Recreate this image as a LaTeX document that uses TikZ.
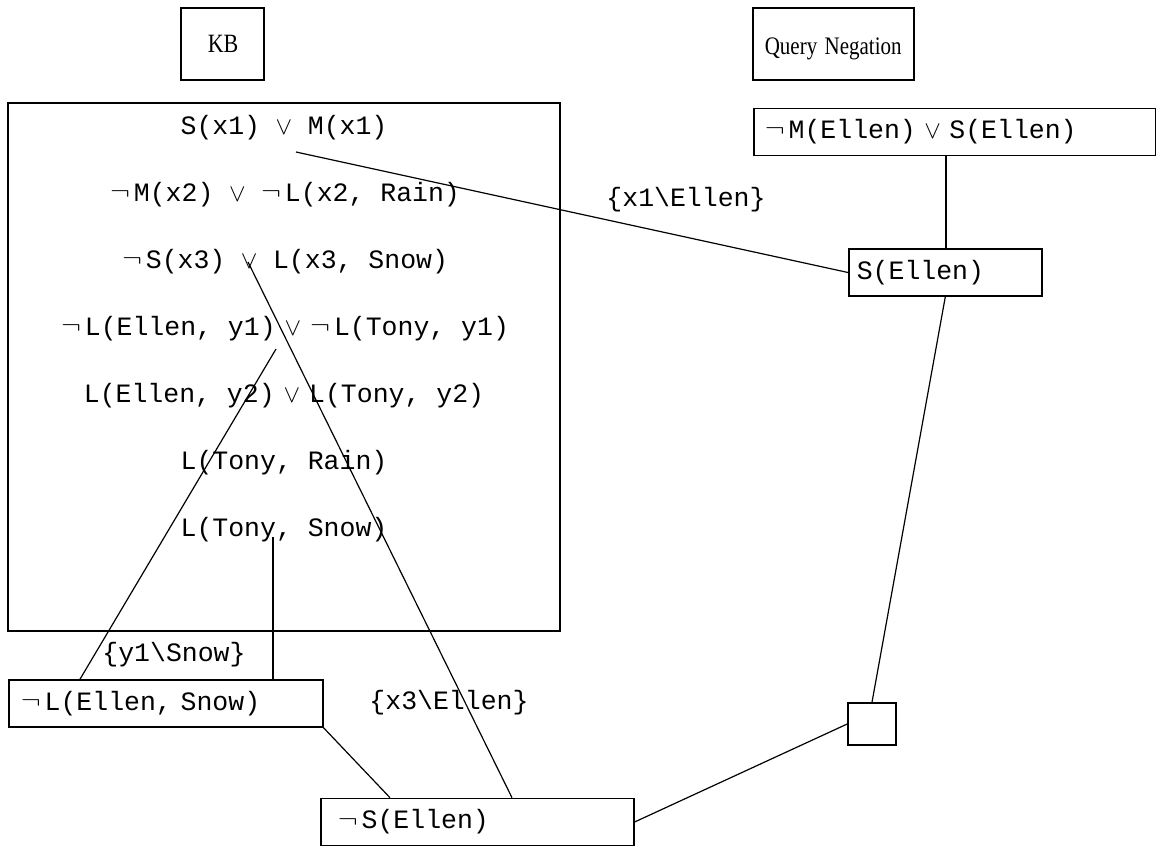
\documentclass[tikz,border=0pt]{standalone}
\usepackage{fontspec}
\usepackage{graphicx}
\setmainfont{Liberation Serif}
\setmonofont{Liberation Mono}
\usetikzlibrary{positioning,calc}
\newcommand{\negs}{\makebox[0.9em][l]{\raisebox{0.07em}{\scalebox{1.2}[1]{$\neg$}}}}
\newcommand{\ors}{\makebox[0.6em]{$\vee$}}
\newcommand{\orw}{~\ors~}
\newcommand{\orn}{\hspace{0.35em}\ors\hspace{0.35em}}
\newcommand{\bs}{\textbackslash}
\newcommand{\tall}[1]{\scalebox{1}[1.2]{#1}}

\begin{document}
\begin{tikzpicture}[x=1pt,y=-1pt,
  mono/.style={font=\fontsize{26.5}{30}\selectfont\ttfamily},
  clause/.style={mono,inner sep=0pt},
  title/.style={draw,line width=1.6pt,font=\fontsize{22}{26}\selectfont,
                inner ysep=0pt,minimum height=72pt,align=left},
  res/.style={draw,line width=1.6pt,mono,inner ysep=0pt,minimum height=47pt,
              align=left},
  sub/.style={mono,inner sep=0pt},
  link/.style={line width=1.2pt}]
\useasboundingbox (0,0) rectangle (1156,848);

% headings
\node[title,text width=29pt,inner xsep=27pt,anchor=west] (kb) at (180,44)
  {\tall{KB}};
\node[title,text width=137pt,inner xsep=12pt,anchor=west] (qneg) at (752,44)
  {\hspace{4pt}\tall{\fontsize{21}{26}\selectfont Query Negation}};

% knowledge base
\node[draw,line width=1.6pt,minimum width=552pt,minimum height=528pt,inner sep=0pt]
  (kbbox) at (284,367) {};
\node[clause] (c1) at (284,128) {S(x1)\orw M(x1)};
\node[clause] (c2) at (285,195) {\negs M(x2)\orw\negs L(x2, Rain)};
\node[clause] (c3) at (285,262) {\negs S(x3)\orw L(x3, Snow)};
\node[clause] (c4) at (285,329) {\negs L(Ellen, y1)\orn\negs L(Tony, y1)};
\node[clause] (c5) at (284,396) {L(Ellen, y2)\orn L(Tony, y2)};
\node[clause] (c6) at (284,463) {L(Tony, Rain)};
\node[clause] (c7) at (284,530) {L(Tony, Snow)};

% resolution steps
\node[res,text width=380pt,inner xsep=11pt,anchor=west] (q1) at (753,132)
  {\negs M(Ellen)\orw S(Ellen)};
\node[res,text width=177pt,inner xsep=8pt,anchor=west] (sE) at (848,272.5)
  {S(Ellen)};
\node[res,text width=290pt,inner xsep=12pt,anchor=west] (nL) at (8,703.5)
  {\negs L(Ellen, Snow)};
\node[res,text width=279pt,inner xsep=17pt,anchor=west] (nS) at (320,822)
  {\negs S(Ellen)};
\node[draw,line width=1.6pt,minimum width=48pt,minimum height=42pt,inner sep=0pt]
  (empty) at (872,724) {};

% substitutions
\node[sub] (s1) at (686,200) {\{x1\bs Ellen\}};
\node[sub] (s2) at (174,655) {\{y1\bs Snow\}};
\node[sub] (s3) at (449,703) {\{x3\bs Ellen\}};

% connector ends
\coordinate (c1a) at (296,152);
\coordinate (c3a) at (248,262);
\coordinate (c4a) at (276,349);
\coordinate (c7a) at (273,537);

\draw[link] (c1a) -- (sE.west);
\draw[link] (sE.north -| 946,0) -- (q1.south -| 946,0);
\draw[link] (sE.south) -- (empty.north);
\draw[link] (c3a) -- (nS.north -| 512,0);
\draw[link] (c4a) -- (nL.north -| 80,0);
\draw[link] (c7a) -- (nL.north -| c7a);
\draw[link] (nL.south east) -- (nS.north -| 390,0);
\draw[link] (empty.west) -- (nS.east);
\end{tikzpicture}
\end{document}
